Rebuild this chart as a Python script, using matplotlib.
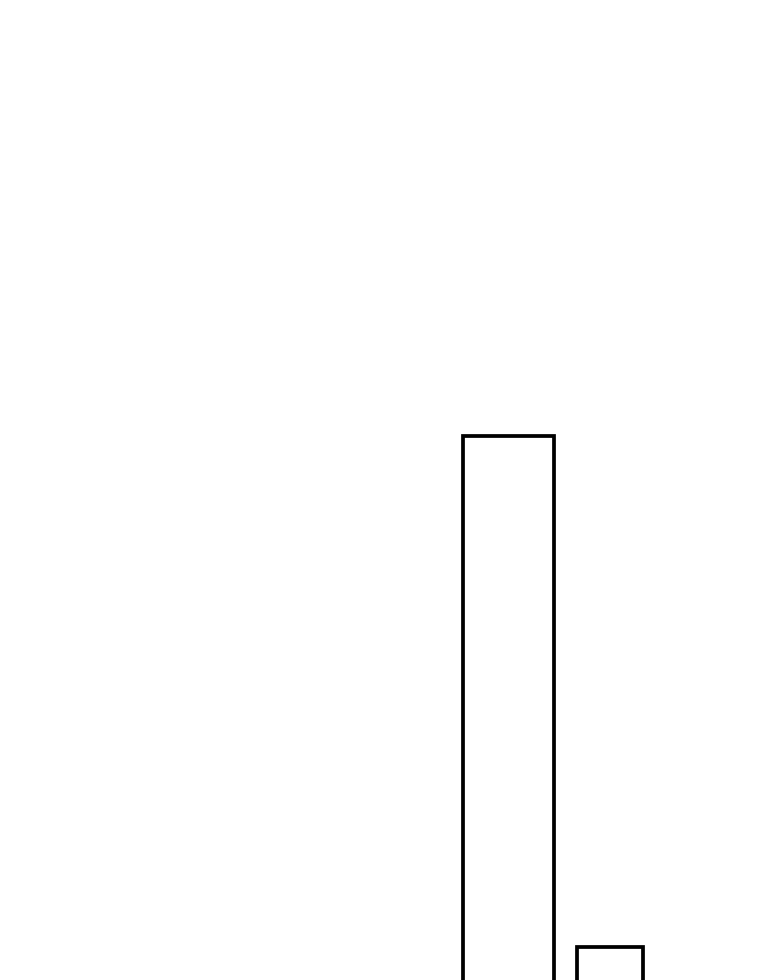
import matplotlib
matplotlib.use('Agg')
import matplotlib.pyplot as plt

# --- data ---
categories = ['A', 'B']
values = [100.0, 6.9]
positions = [0, 1]

# --- style ---
bar_widths = [0.89, 0.645]

fig = plt.figure(figsize=(7.6, 9.8), dpi=100)
ax = fig.add_axes([0, 0, 1, 1])

ax.bar(positions, values, width=bar_widths, facecolor='white',
       edgecolor='black', linewidth=2.7, joinstyle='miter')

ax.set_xlim(-5.01, 2.478)
ax.set_ylim(0.8, 179.5)
ax.axis('off')

fig.savefig('out.png', dpi=100, facecolor='white')
